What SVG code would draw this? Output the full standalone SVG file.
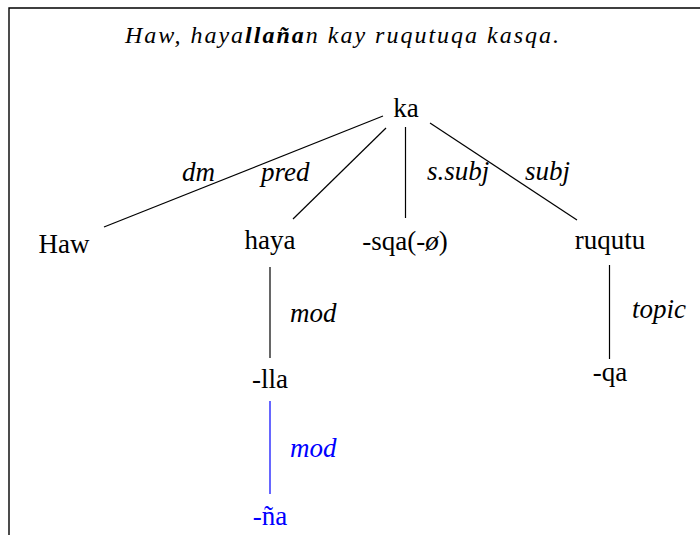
<svg xmlns="http://www.w3.org/2000/svg" width="700" height="535" viewBox="0 0 700 535">
<rect width="700" height="535" fill="#fff"/>
<g id="frame"><path d="M9,535V8H700" stroke="#000" stroke-width="1.4" fill="none"/></g>
<text id="title" x="343" y="43" text-anchor="middle" font-family="Liberation Serif" font-size="24" font-style="italic" letter-spacing="2">Haw, haya<tspan font-weight="bold">llaña</tspan>n kay ruqutuqa kasqa.</text>
<g id="connectors" stroke="#000" stroke-width="1.2" fill="none">
<line x1="383" y1="116" x2="104" y2="227"/>
<line x1="386" y1="128" x2="293" y2="219"/>
<line x1="405.5" y1="127" x2="405.5" y2="218"/>
<line x1="430" y1="123" x2="577" y2="220"/>
<line x1="270" y1="267" x2="270" y2="358"/>
<line x1="270" y1="401" x2="270" y2="494" stroke="#0000ff"/>
<line x1="609.5" y1="265" x2="609.5" y2="359"/>
</g>
<g id="labels" font-family="Liberation Serif" font-size="27" font-style="italic">
<text x="182" y="181">dm</text>
<text x="261" y="181">pred</text>
<text x="427" y="180">s.subj</text>
<text x="525" y="180">subj</text>
<text x="290" y="322">mod</text>
<text x="290" y="457" fill="#0000ff">mod</text>
<text x="632" y="318">topic</text>
</g>
<g font-family="Liberation Serif" font-size="27" text-anchor="middle">
<g id="node-ka"><text x="406" y="117">ka</text></g>
<g id="node-haw"><text x="64" y="253">Haw</text></g>
<g id="node-haya"><text x="270" y="249">haya</text></g>
<g id="node-sqa"><text x="405" y="250">-sqa(-<tspan font-style="italic">ø</tspan>)</text></g>
<g id="node-ruqutu"><text x="610" y="249">ruqutu</text></g>
<g id="node-lla"><text x="270" y="388">-lla</text></g>
<g id="node-qa"><text x="610" y="381">-qa</text></g>
<g id="node-na"><text x="270" y="525" fill="#0000ff">-ña</text></g>
</g>
</svg>
